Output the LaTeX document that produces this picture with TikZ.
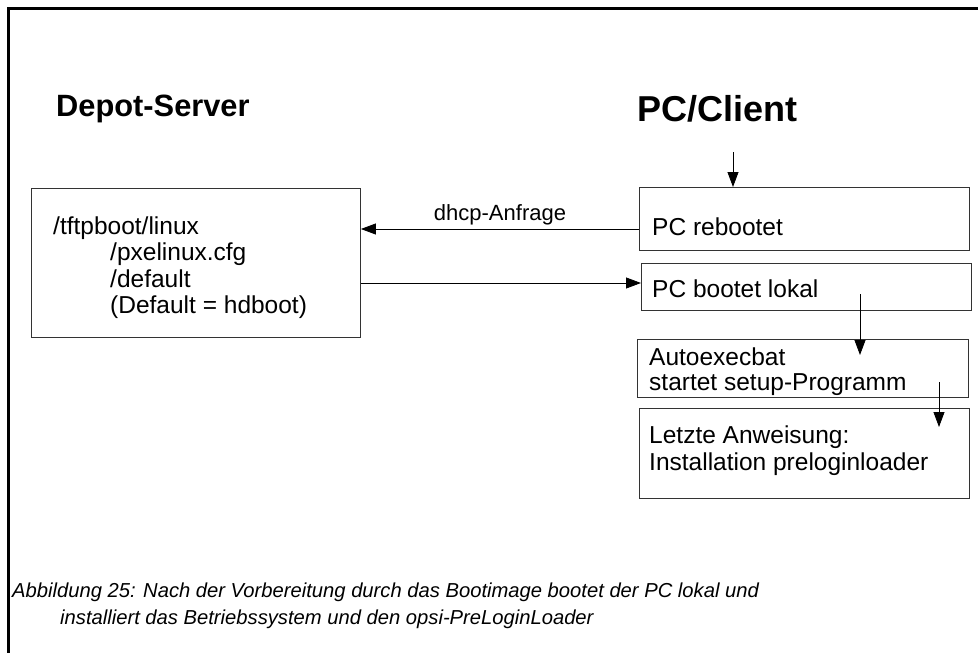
\documentclass[tikz,border=0pt]{standalone}
\usepackage{fontspec}
\setmainfont{Liberation Sans}
\usetikzlibrary{arrows.meta}
\begin{document}
\begin{tikzpicture}[x=1pt,y=-1pt,
  boxstyle/.style={draw=black!80, line width=0.9pt},
  txt/.style={anchor=base west, inner sep=0pt, font=\fontsize{24.5}{26.3}\selectfont},
  arr/.style={line width=0.8pt, -{Triangle[length=15pt,width=11pt]}},
  ttl/.style={anchor=base west, inner sep=0pt}
]
\useasboundingbox (0,0) rectangle (978,653);
\fill[white] (0,0) rectangle (978,653);
% frame
\draw[line width=3pt] (8.5,653) -- (8.5,8.5) -- (978,8.5);
% titles
\node[ttl, font=\fontsize{30.8}{32}\selectfont\bfseries] (t1) at (56,116) {Depot-Server};
\node[ttl, font=\fontsize{36}{38}\selectfont\bfseries] (t2) at (637,121) {PC/Client};
% boxes
\node[boxstyle, minimum width=329pt, minimum height=149pt, anchor=north west, inner sep=0pt] (depot) at (31,188) {};
\node[txt] (d1) at (53,234) {/tftpboot/linux};
\node[txt] (d2) at (110,260) {/pxelinux.cfg};
\node[txt] (d3) at (110,287) {/default};
\node[txt] (d4) at (110,313) {(Default = hdboot)};

\node[boxstyle, minimum width=330pt, minimum height=63pt, anchor=north west, inner sep=0pt] (reb) at (639,187) {};
\node[txt] at (652,235) {PC rebootet};
\node[boxstyle, minimum width=330pt, minimum height=47pt, anchor=north west, inner sep=0pt] (lok) at (641,263) {};
\node[txt] at (652,297) {PC bootet lokal};
\node[boxstyle, minimum width=331pt, minimum height=58pt, anchor=north west, inner sep=0pt] (auto) at (637,339) {};
\node[txt] at (649,365) {Autoexecbat};
\node[txt] at (649,390) {startet setup-Programm};
\node[boxstyle, minimum width=330pt, minimum height=90pt, anchor=north west, inner sep=0pt] (letz) at (639,408) {};
\node[txt] at (649,443) {Letzte Anweisung:};
\node[txt] at (649,470) {Installation preloginloader};

% connectors
\coordinate (top) at (733,152);
\draw[arr] (top) -- (reb.north -| top);
\draw[arr] (reb.west |- 0,229) -- (depot.east |- 0,229);
\node[anchor=base, inner sep=0pt, font=\fontsize{22}{24}\selectfont] (dhcp) at (500,220) {dhcp-Anfrage};
\draw[arr] (depot.east |- 0,283) -- (lok.west |- 0,283);
\coordinate (a1) at (860,294);
\draw[arr] (a1) -- (860,355);
\coordinate (a2) at (939,382);
\draw[arr] (a2) -- (939,427);

% caption
\node[ttl, font=\fontsize{20.2}{22}\selectfont\itshape] (cap1) at (12,597) {Abbildung 25: Nach der Vorbereitung durch das Bootimage bootet der PC lokal und};
\node[ttl, font=\fontsize{20.2}{22}\selectfont\itshape] (cap2) at (60,624) {installiert das Betriebssystem und den opsi-PreLoginLoader};
\end{tikzpicture}
\end{document}
